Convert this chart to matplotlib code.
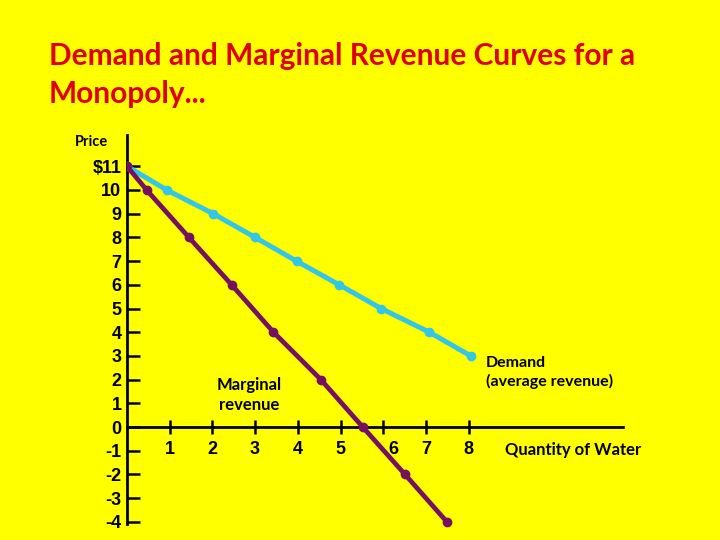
import matplotlib.pyplot as plt
from matplotlib.transforms import ScaledTranslation

# data (quantity, price)
demand_q = [0, 0.93, 2.02, 3.0, 3.97, 4.97, 5.95, 7.08, 8.05]
demand_p = [11, 10, 9, 8, 7, 6, 5, 4, 3]
mr_q = [0, 0.46, 1.45, 2.45, 3.43, 4.54, 5.52, 6.51, 7.49]
mr_p = [11, 10, 8, 6, 4, 2, 0, -2, -4]

x_ticks = [1, 2, 3, 4, 5, 6, 7, 8]
y_ticks = [11, 10, 9, 8, 7, 6, 5, 4, 3, 2, 1, 0, -1, -2, -3, -4]
y_labels = ["$11"] + [str(v) for v in y_ticks[1:]]

YELLOW = "#ffff00"
CYAN = "#33c6e6"
PURPLE = "#751063"


def main():
    fig = plt.figure(figsize=(7.2, 5.4), dpi=100, facecolor=YELLOW)
    # axes placed so that x=0 sits at 127px and y=0 at 427px
    W, H = 720, 540
    x0, x1 = 127, 640
    ytop, ybot = 135, 530
    ax = fig.add_axes([x0 / W, 1 - ybot / H, (x1 - x0) / W, (ybot - ytop) / H])
    ax.set_facecolor(YELLOW)
    xu, yu = 42.7, 23.7
    ax.set_xlim(0, (x1 - x0) / xu)
    ax.set_ylim(-(ybot - 427) / yu, (427 - ytop) / yu)

    ax.plot(demand_q, demand_p, color=CYAN, lw=3.6, marker="o", ms=6,
            solid_capstyle="round", zorder=3)
    ax.plot(mr_q, mr_p, color=PURPLE, lw=3.4, marker="o", ms=6,
            solid_capstyle="round", zorder=4)

    for s in ["top", "right"]:
        ax.spines[s].set_visible(False)
    ax.spines["left"].set_position(("data", 0))
    ax.spines["bottom"].set_position(("data", 0))
    ax.spines["left"].set_linewidth(2)
    ax.spines["bottom"].set_linewidth(2)
    ax.spines["left"].set_bounds(-4.1, (427 - ytop) / yu)
    ax.spines["bottom"].set_bounds(0, (623 - x0) / xu)

    ax.set_yticks(y_ticks)
    ax.set_yticklabels(y_labels, fontsize=13, fontweight="bold",
                       family="Liberation Sans")
    ax.tick_params(axis="y", direction="in", length=9, width=1.8, pad=4)

    ax.set_xticks(x_ticks)
    ax.set_xticklabels([str(v) for v in x_ticks], fontsize=13,
                       fontweight="bold", family="Liberation Sans")
    ax.tick_params(axis="x", direction="inout", length=10, width=1.8, pad=5)
    # the "6" sits a bit to the right in the original
    lbl6 = ax.get_xticklabels()[5]
    lbl6.set_transform(lbl6.get_transform() + ScaledTranslation(10 / 100, 0, fig.dpi_scale_trans))

    fig.text(49 / W, 1 - 75 / H, "Demand and Marginal Revenue Curves for a\nMonopoly...",
             color="#e00000", fontsize=21.5, fontweight="bold", family="Lato",
             va="center", ha="left", linespacing=1.45)
    fig.text(92 / W, 1 - 142 / H, "Price", fontsize=10.5, fontweight="bold",
             family="Lato", ha="center", va="center")
    ax.text(2.87, 1.35, "Marginal\nrevenue", fontsize=12, fontweight="bold",
            family="Lato", ha="center", va="center", linespacing=1.3)
    ax.text(8.4, 2.3, "Demand\n(average revenue)", fontsize=11.5,
            fontweight="bold", family="Lato", ha="left", va="center",
            linespacing=1.3)
    ax.text(8.85, -0.95, "Quantity of Water", fontsize=12, fontweight="bold",
            family="Lato", ha="left", va="center")

    fig.savefig("out.png", dpi=100, facecolor=YELLOW)


if __name__ == "__main__":
    main()
